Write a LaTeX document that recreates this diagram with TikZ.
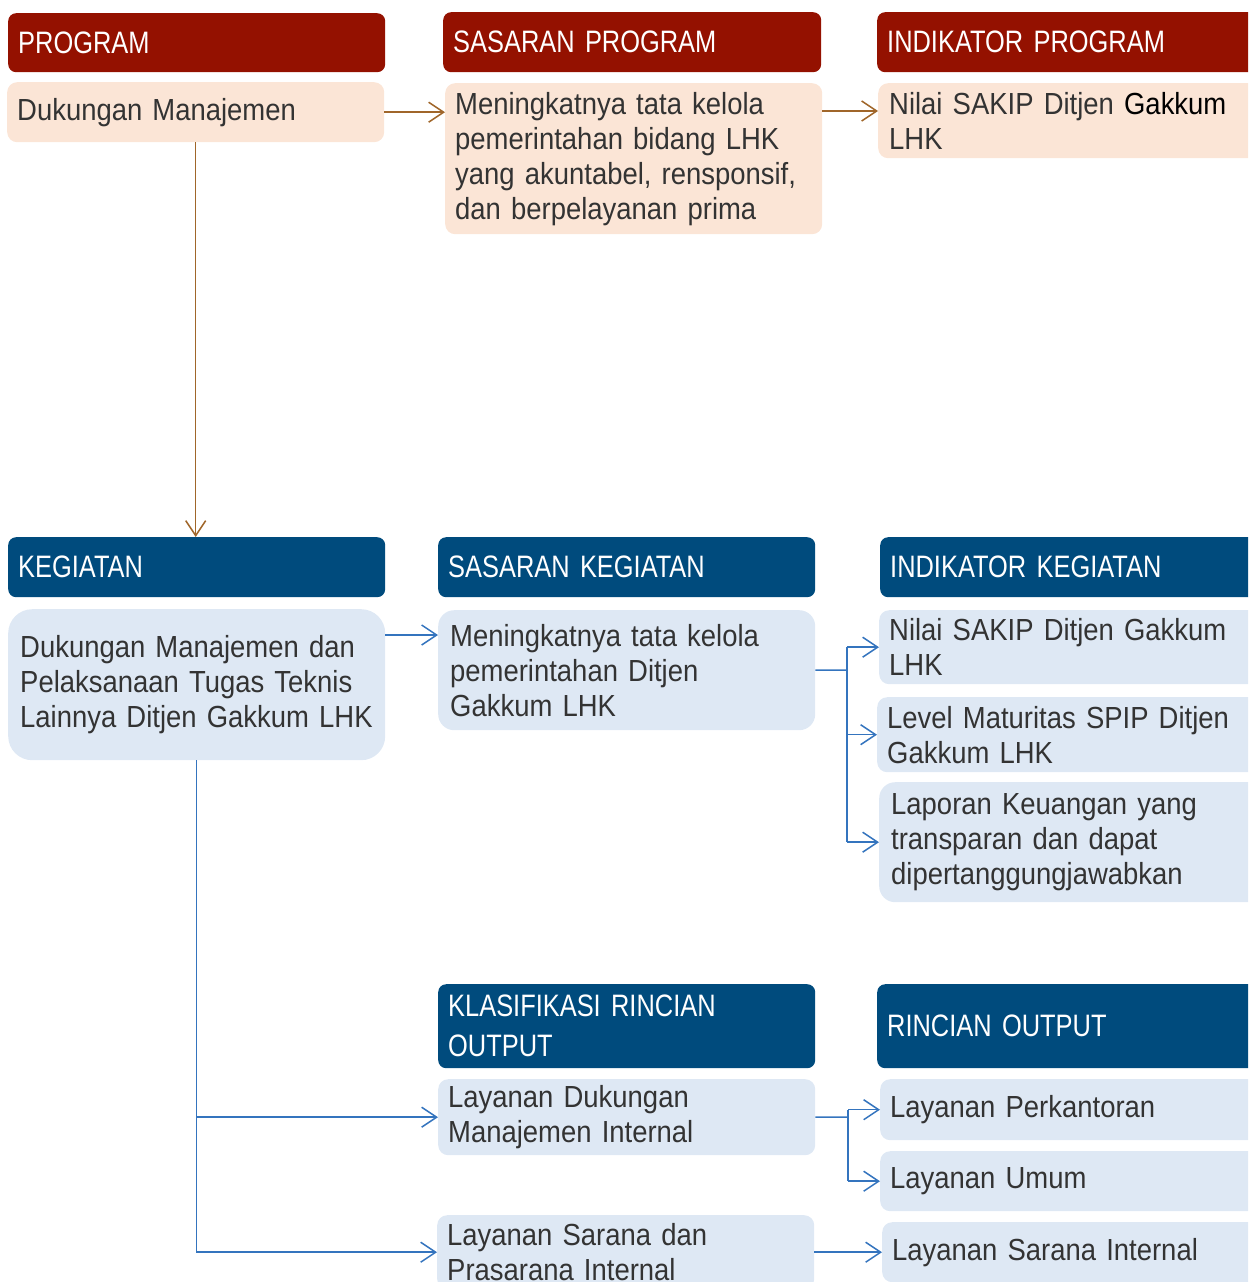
\documentclass[tikz,border=0pt]{standalone}
\usepackage{fontspec}
\usepackage{tikz}
\usetikzlibrary{arrows.meta}

\newfontfamily\hdfam[FakeStretch=0.82]{Liberation Sans}
\newfontfamily\bdfam[FakeStretch=0.9]{Liberation Sans}
\newcommand\headfnt{\hdfam\fontsize{31}{40}\selectfont}
\newcommand\bodyfnt{\bdfam\fontsize{30.5}{35}\selectfont}

\definecolor{progred}{HTML}{941100}
\definecolor{progpeach}{HTML}{FBE5D6}
\definecolor{kegblue}{HTML}{004B7D}
\definecolor{keglight}{HTML}{DEE8F4}
\definecolor{bodygrey}{HTML}{333333}
\definecolor{arrbrown}{HTML}{A0662A}
\definecolor{arrblue}{HTML}{3474BE}

\begin{document}
\begin{tikzpicture}[x=1pt,y=-1pt,
  hd/.style={anchor=north west, rounded corners=8pt, text=white, font=\headfnt,
    align=left, inner xsep=10pt, inner ysep=0pt},
  redhd/.style={hd, fill=progred},
  bluhd/.style={hd, fill=kegblue},
  bx/.style={anchor=north west, rounded corners=10pt, text=bodygrey, font=\bodyfnt,
    align=left, inner xsep=10pt, inner ysep=0pt},
  pbx/.style={bx, fill=progpeach},
  kbx/.style={bx, fill=keglight},
  parr/.style={draw=arrbrown, line width=1.5pt, -{Straight Barb[length=15pt,width=20pt]}},
  bline/.style={draw=arrblue, line width=1.5pt},
  barr/.style={bline, -{Straight Barb[length=15pt,width=20pt]}}]

  \useasboundingbox (0,0) rectangle (1248,1282);
  \clip (0,0) rectangle (1248,1282);

  \node[redhd, text width=357pt, minimum height=59pt] (hProg) at (8,13) {PROGRAM};
  \node[redhd, text width=358pt, minimum height=60pt] (hSasP) at (443,12) {SASARAN PROGRAM};
  \node[redhd, text width=370pt, minimum height=60pt] (hIndP) at (877,12) {INDIKATOR PROGRAM};

  \node[pbx, text width=357pt, minimum height=60pt] (pProg) at (7,82) {Dukungan Manajemen};
  \node[pbx, text width=357pt, minimum height=151pt] (pSas) at (445,83)
    {Meningkatnya tata kelola\\pemerintahan bidang LHK\\yang akuntabel, rensponsif,\\dan berpelayanan prima};
  \node[pbx, text width=368pt, minimum height=75pt, inner xsep=11pt] (pInd) at (878,83)
    {Nilai SAKIP Ditjen {\color{black}Gakkum}\\LHK};

  \node[bluhd, text width=357pt, minimum height=60pt] (hKeg) at (8,537) {KEGIATAN};
  \node[bluhd, text width=357pt, minimum height=60pt] (hSasK) at (438,537) {SASARAN KEGIATAN};
  \node[bluhd, text width=370pt, minimum height=60pt] (hIndK) at (880,537) {INDIKATOR KEGIATAN};

  \node[kbx, text width=353pt, minimum height=151pt, inner xsep=12pt, rounded corners=24pt] (kKeg) at (8,609)
    {Dukungan Manajemen dan\\Pelaksanaan Tugas Teknis\\Lainnya Ditjen Gakkum LHK};
  \node[kbx, text width=353pt, minimum height=120pt, inner xsep=12pt, rounded corners=16pt] (kSas) at (438,610)
    {Meningkatnya tata kelola\\pemerintahan Ditjen\\Gakkum LHK};
  \node[kbx, text width=370pt, minimum height=74pt] (kInd1) at (879,610) {Nilai SAKIP Ditjen Gakkum\\LHK};
  \node[kbx, text width=370pt, minimum height=75pt] (kInd2) at (877,697) {Level Maturitas SPIP Ditjen\\Gakkum LHK};
  \node[kbx, text width=368pt, minimum height=120pt, inner xsep=12pt, rounded corners=16pt] (kInd3) at (879,782)
    {Laporan Keuangan yang\\transparan dan dapat\\dipertanggungjawabkan};

  \node[bluhd, text width=357pt, minimum height=84pt] (hKlas) at (438,984) {KLASIFIKASI RINCIAN\\OUTPUT};
  \node[bluhd, text width=370pt, minimum height=84pt] (hRinc) at (877,984) {RINCIAN OUTPUT};

  \node[kbx, text width=357pt, minimum height=76pt] (oLay) at (438,1079) {Layanan Dukungan\\Manajemen Internal};
  \node[kbx, text width=370pt, minimum height=61pt] (oPerk) at (880,1079) {Layanan Perkantoran};
  \node[kbx, text width=370pt, minimum height=60pt] (oUmum) at (880,1151) {Layanan Umum};
  \node[kbx, text width=357pt, minimum height=74pt] (oSar) at (437,1215) {Layanan Sarana dan\\Prasarana Internal};
  \node[kbx, text width=370pt, minimum height=60pt] (oSarI) at (882,1222) {Layanan Sarana Internal};

  \draw[parr] (pProg.east) -- (pProg.east -| pSas.west);
  \draw[parr] ([yshift=-28pt]pSas.north east) -- ([yshift=-28pt]pSas.north east -| pInd.west);
  \draw[parr] (pProg.south) -- (pProg.south |- hKeg.north);

  \draw[barr] ([yshift=-26pt]kKeg.north east) -- ([yshift=-26pt]kKeg.north east -| kSas.west);
  \coordinate (kJ) at (847,670);
  \draw[bline] (kSas.east) -- (kJ);
  \draw[bline] (kJ |- kInd1.west) -- (kJ |- kInd3.west);
  \draw[barr] (kJ |- kInd1.west) -- (kInd1.west);
  \draw[barr] (kJ |- kInd2.west) -- (kInd2.west);
  \draw[barr] (kJ |- kInd3.west) -- (kInd3.west);

  \draw[barr] (kKeg.south) -- (kKeg.south |- oSar.west) -- (oSar.west);
  \draw[barr] (kKeg.south |- oLay.west) -- (oLay.west);

  \coordinate (oJ) at (848,1117);
  \draw[bline] (oLay.east) -- (oJ);
  \draw[bline] (oJ |- oPerk.west) -- (oJ |- oUmum.west);
  \draw[barr] (oJ |- oPerk.west) -- (oPerk.west);
  \draw[barr] (oJ |- oUmum.west) -- (oUmum.west);
  \draw[barr] (oSar.east) -- (oSarI.west);

\end{tikzpicture}
\end{document}
